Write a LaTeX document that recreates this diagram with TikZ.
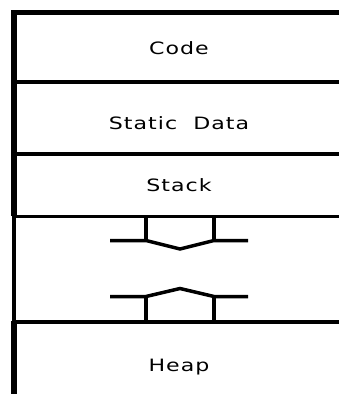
\documentclass[tikz,border=0pt]{standalone}
\usepackage{fontspec}
\setmainfont{DejaVu Sans}[FakeStretch=1.3, LetterSpace=6, WordSpace=2]

\begin{document}
\begin{tikzpicture}[x=1pt, y=-1pt,
  wall/.style={line width=5.5pt},
  sep/.style={line width=3.2pt},
  growth/.style={line width=3.5pt, line join=miter},
  lbl/.style={font=\fontsize{17}{20}\selectfont, anchor=base}]
  \useasboundingbox (0,0) rectangle (339,394);
  % left wall and top edge
  \draw[wall] (14,394) -- (14,321);
  \draw[line width=4.5pt] (14,321) -- (14,216);
  \draw[wall] (14,216) -- (14,12.5) -- (339,12.5);
  % segment boundaries
  \draw[line width=4pt] (14,82) -- (339,82);
  \draw[sep] (14,154) -- (339,154);
  \draw[sep] (14,216.5) -- (339,216.5);
  \draw[sep] (14,322) -- (339,322);
  % labels
  \node[lbl] (code)   at (179,54)  {Code};
  \node[lbl] (static) at (179,129.5) {Static Data};
  \node[lbl] (stack)  at (179,191.5) {Stack};
  \node[lbl] (heap)   at (179,371.5) {Heap};
  % stack grows down
  \draw[growth] (146,216.5) -- (146,240.5);
  \draw[growth] (214,216.5) -- (214,240.5);
  \draw[growth] (110,240.5) -- (146,240.5) -- (180,249) -- (214,240.5) -- (248,240.5);
  % heap grows up
  \draw[growth] (146,322) -- (146,296.5);
  \draw[growth] (214,322) -- (214,296.5);
  \draw[growth] (110,296.5) -- (146,296.5) -- (180,288.5) -- (214,296.5) -- (248,296.5);
\end{tikzpicture}
\end{document}
